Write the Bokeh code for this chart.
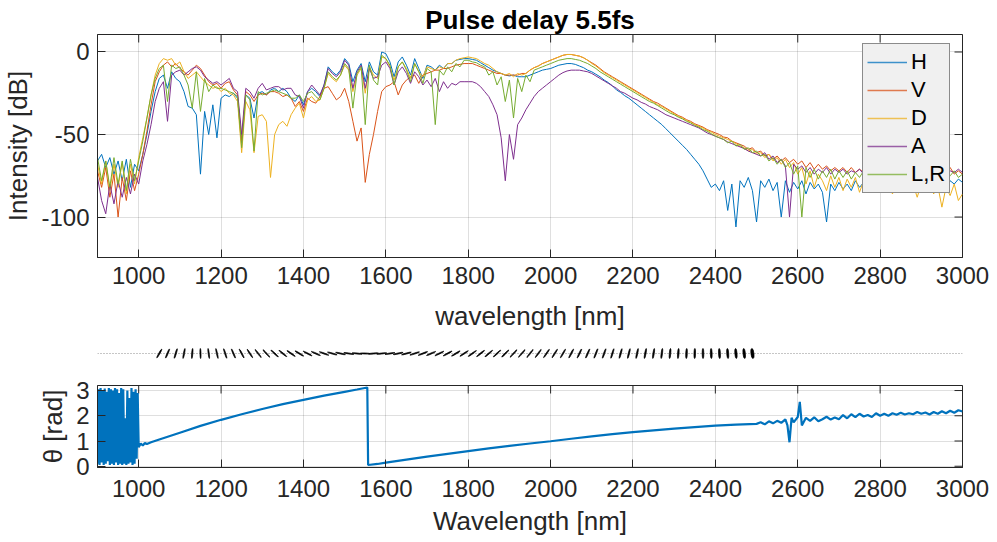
import math
from bokeh.plotting import figure
from bokeh.layouts import column
from bokeh.models import Range1d, FixedTicker, Legend, LegendItem, ColumnDataSource
from bokeh.embed import file_html
from bokeh.resources import INLINE

# ---------------- data ----------------
wl = list(range(900, 3001, 10))  # common wavelength grid [nm]

H = [
    -66, -62, -70, -64, -74, -66, -78, -65, -82, -68,
    -72, -62, -50, -36, -24, -16, -14, -22, -12, -16,
    -18, -24, -33, -34, -38, -74, -36, -50, -32, -52,
    -28, -26, -27, -25, -28, -55, -26, -28, -40, -25,
    -24, -26, -23, -22, -24, -22, -24, -28, -30, -26,
    -32, -24, -22, -24, -27, -20, -9, -12, -14, -11,
    -4, -7, -18, -11, -7, -18, -6, -12, -14, 0,
    -1, -6, -15, -6, -3, -8, -14, -4, -10, -16,
    -8, -9, -11, -8, -10, -7, -7, -5, -4.5, -4,
    -4, -4.5, -5, -6.5, -8, -9.5, -11, -12, -13, -14,
    -14.5, -14, -15, -15, -15, -14, -13, -12, -11, -10.5,
    -10, -9, -8, -7.5, -7, -7, -7.5, -8.5, -9.5, -11,
    -12, -13.5, -15, -17, -18.5, -20.5, -23, -24.5, -26.5, -28,
    -30, -32, -34, -36, -38, -40, -42, -44, -46.5, -49,
    -51.5, -54, -56.5, -59, -62, -65, -68, -72, -77, -82,
    -80, -84, -78, -96, -80, -106, -78, -82, -76, -84,
    -103, -78, -82, -77, -84, -79, -100, -78, -85, -79,
    -83, -78, -86, -79, -83, -80, -85, -103, -80, -84,
    -79, -83, -80, -84, -78, -82, -79, -83, -78, -82,
    -80, -77, -82, -78, -84, -79, -81, -77, -83, -79,
    -80, -78, -83, -77, -81, -79, -84, -78, -80, -77,
    -79,
]
V = [
    -72, -82, -70, -88, -74, -100, -76, -90, -72, -84,
    -74, -62, -48, -32, -18, -12, -8, -6, -9, -7,
    -10, -12, -14, -11, -8, -10, -14, -18, -20, -19,
    -22, -19, -18, -23, -26, -54, -24, -26, -30, -26,
    -25, -26, -24, -24, -25, -27, -26, -28, -33, -30,
    -36, -28, -30, -31, -27, -22, -21, -25, -29, -27,
    -22, -30, -42, -54, -46, -79, -62, -50, -36, -24,
    -21, -20, -18, -26, -20, -17, -15, -14, -19, -14,
    -13, -12, -11, -11, -10, -10, -9, -8, -7.5, -7,
    -7, -7, -8, -9, -10, -11, -12, -13, -13, -14,
    -14, -14, -14, -13, -13, -11, -9.5, -8.5, -7, -6,
    -5, -4, -3, -2, -1.5, -1.5, -2, -2.5, -3.5, -5,
    -6.5, -8, -10, -12, -13.5, -15, -16.5, -18, -19.5, -21,
    -22.5, -24, -25.5, -27, -28.5, -30, -31, -32.5, -34, -35.5,
    -37, -38.5, -39.5, -41, -42, -43.5, -44.5, -45.5, -47, -48,
    -49, -50, -51.5, -52, -54, -55, -56, -57, -59, -58,
    -61, -60, -63, -62, -65, -63, -66, -64, -67, -65,
    -68, -66, -70, -67, -71, -68, -71, -69, -72, -70,
    -72, -70, -73, -70, -73, -71, -73, -71, -74, -72,
    -73, -71, -74, -72, -73, -71, -74, -72, -73, -71,
    -74, -72, -73, -71, -74, -72, -73, -70, -74, -72,
    -74,
]
D = [
    -68, -80, -66, -84, -68, -82, -67, -86, -68, -80,
    -64, -52, -40, -26, -14, -7, -4, -5, -4, -8,
    -6, -12, -16, -14, -12, -15, -18, -20, -22, -21,
    -24, -22, -25, -26, -30, -61, -30, -35, -61, -39,
    -38, -42, -76, -50, -44, -42, -45, -38, -34, -31,
    -40, -29, -27, -30, -29, -22, -13, -16, -18, -14,
    -8, -11, -24, -14, -10, -25, -9, -14, -16, -3,
    -4, -9, -17, -9, -6, -10, -16, -7, -12, -15,
    -9, -10, -11, -9, -10, -7, -7, -5, -4, -3.5,
    -3, -3.5, -4, -5.5, -7, -8, -10, -12, -13, -14,
    -13, -15, -13, -14, -13, -11, -9.5, -8.5, -7, -6,
    -5, -4, -3, -2, -1.5, -1.5, -2, -2.5, -3.5, -5,
    -7, -8.5, -10.5, -12.5, -14, -15.5, -17, -18.5, -20, -21.5,
    -23, -24.5, -26, -27.5, -29, -30.5, -32, -33, -34.5, -36,
    -37.5, -39, -40, -41.5, -42.5, -44, -45, -46, -47.5, -48.5,
    -50, -51, -52, -53, -54, -55.5, -57, -58, -60, -59,
    -62, -61, -64, -62, -66, -64, -68, -65, -70, -67,
    -74, -70, -80, -72, -82, -74, -78, -84, -75, -82,
    -76, -84, -77, -82, -76, -85, -78, -81, -77, -84,
    -78, -83, -80, -86, -79, -83, -78, -84, -80, -88,
    -80, -85, -79, -86, -81, -94, -82, -87, -80, -90,
    -86,
]
A = [
    -76, -90, -98, -80, -92, -78, -88, -76, -86, -74,
    -80, -66, -56, -44, -30, -22, -18, -42, -14, -12,
    -11, -14, -12, -10, -9, -11, -15, -17, -19, -18,
    -20, -18, -16, -22, -24, -50, -22, -24, -28, -22,
    -19, -23, -22, -21, -21, -23, -22, -22, -26, -27,
    -34, -24, -20, -23, -26, -20, -10, -13, -15, -12,
    -5, -8, -22, -12, -8, -22, -10, -16, -15, -8,
    -6, -10, -20, -12, -9, -13, -19, -12, -15, -20,
    -17, -21, -16, -24, -18, -22, -19, -20, -18, -18,
    -18, -18, -19, -21, -24, -27, -32, -38, -52, -78,
    -50, -65, -44, -40, -35, -31, -27, -24, -22, -20,
    -18, -16, -14, -12.5, -11.5, -11, -11, -11, -11.5, -12,
    -13, -14.5, -16, -17.5, -19, -20.5, -22, -24, -25, -26.5,
    -28, -29, -30.5, -31.5, -33, -34, -35, -36.5, -38, -39,
    -40, -41, -42, -43, -44, -45, -46, -47.5, -49, -50,
    -51, -52, -53, -54.5, -55.5, -56.5, -57.5, -58.5, -60, -61,
    -62, -63, -61, -65, -63, -67, -65, -69, -100, -68,
    -71, -69, -73, -70, -74, -71, -73, -70, -74, -71,
    -73, -71, -74, -72, -73, -71, -74, -72, -73, -71,
    -74, -72, -73, -71, -74, -72, -73, -71, -74, -72,
    -73, -71, -74, -72, -73, -71, -74, -72, -73, -71,
    -73,
]
LR = [
    -64, -78, -66, -82, -64, -80, -66, -84, -65, -78,
    -66, -54, -40, -26, -16, -10, -8, -30, -8, -10,
    -9, -14, -20, -34, -12, -36, -16, -24, -20, -22,
    -22, -23, -24, -25, -27, -58, -26, -29, -60, -24,
    -26, -25, -24, -23, -24, -25, -26, -28, -28, -26,
    -30, -25, -24, -27, -29, -22, -12, -15, -17, -14,
    -7, -10, -34, -13, -9, -44, -8, -17, -20, -2,
    -4, -8, -20, -9, -6, -11, -18, -7, -12, -19,
    -10, -12, -44, -11, -14, -9, -12, -7, -9, -5,
    -5, -6, -6.5, -8, -9, -14, -12, -20, -15, -30,
    -17, -40, -16, -24, -14, -18, -11, -10, -9, -8,
    -7, -6, -5, -4.5, -4, -4, -4.5, -5, -6, -7,
    -8.5, -10, -12, -13.5, -15, -16.5, -18, -19.5, -21, -22.5,
    -24, -25.5, -27, -28.5, -30, -31, -32.5, -34, -35.5, -37,
    -38, -39.5, -40.5, -42, -43, -44.5, -45.5, -47, -48, -49.5,
    -51, -52, -53, -55, -54, -57, -56, -59, -58, -61,
    -60, -63, -62, -66, -64, -68, -65, -70, -67, -74,
    -69, -100, -70, -76, -71, -77, -72, -76, -71, -77,
    -72, -76, -72, -77, -73, -76, -72, -77, -73, -76,
    -73, -75, -72, -76, -73, -75, -72, -76, -73, -75,
    -72, -76, -73, -75, -72, -76, -73, -75, -72, -76,
    -74,
]
series_names = ["H", "V", "D", "A", "L,R"]
series_vals = [H, V, D, A, LR]
series_colors = ["#0072BD", "#D95319", "#EDB120", "#7E2F8E", "#77AC30"]

# polarisation angle theta [rad]
theta_wl = [
    900, 902.5, 905, 907.5, 910, 912.5, 915, 917.5, 920, 922.5,
    925, 927.5, 930, 932.5, 935, 937.5, 940, 942.5, 945, 947.5,
    950, 952.5, 955, 957.5, 960, 962.5, 965, 967.5, 970, 972.5,
    975, 977.5, 980, 982.5, 985, 987.5, 990, 992.5, 995, 997.5,
    1000, 1005, 1010, 1015, 1020, 1030, 1050, 1100, 1150, 1200,
    1250, 1300, 1350, 1400, 1450, 1500, 1530, 1555, 1557, 1580,
    1600, 1650, 1700, 1750, 1800, 1850, 1900, 1950, 2000, 2050,
    2100, 2150, 2200, 2250, 2300, 2350, 2400, 2450, 2500, 2510,
    2520, 2530, 2540, 2550, 2560, 2570, 2575, 2580, 2585, 2590,
    2600, 2605, 2610, 2620, 2630, 2640, 2650, 2660, 2670, 2680,
    2690, 2700, 2710, 2720, 2730, 2740, 2750, 2760, 2770, 2780,
    2790, 2800, 2810, 2820, 2830, 2840, 2850, 2860, 2870, 2880,
    2890, 2900, 2910, 2920, 2930, 2940, 2950, 2960, 2970, 2980,
    2990, 3000,
]
theta_val = [
    0.10, 3.05, 0.05, 3.10, 0.15, 3.00, 0.05, 3.08, 0.10, 2.95,
    0.20, 3.10, 0.05, 3.05, 0.10, 3.00, 0.05, 3.10, 0.15, 3.05,
    0.05, 2.90, 0.10, 3.10, 0.05, 3.05, 0.10, 1.90, 0.05, 3.00,
    0.10, 2.70, 0.15, 3.10, 0.05, 2.95, 0.10, 3.05, 0.30, 2.90,
    0.75, 0.90, 0.82, 0.92, 0.88, 0.95, 1.06, 1.33, 1.60, 1.84,
    2.06, 2.27, 2.46, 2.63, 2.80, 2.95, 3.04, 3.12, 0.05, 0.09,
    0.14, 0.26, 0.38, 0.49, 0.60, 0.71, 0.81, 0.90, 0.99, 1.09,
    1.18, 1.27, 1.35, 1.42, 1.49, 1.55, 1.61, 1.65, 1.68, 1.74,
    1.66, 1.78, 1.70, 1.80, 1.72, 1.86, 1.62, 0.95, 1.92, 1.74,
    1.95, 2.55, 1.62, 1.92, 1.80, 1.94, 1.78, 1.86, 1.96, 1.85,
    1.93, 1.86, 2.03, 1.90, 2.06, 1.95, 2.08, 1.97, 2.03, 1.95,
    2.10, 2.00, 2.08, 2.00, 2.10, 2.04, 2.12, 2.05, 2.10, 2.06,
    2.15, 2.08, 2.13, 2.05, 2.15, 2.08, 2.18, 2.10, 2.20, 2.12,
    2.22, 2.17,
]

# polarisation ellipses (orientation angle and ellipticity)
ell_wl = [
    1050, 1070, 1090, 1110, 1130, 1150, 1170, 1190, 1210, 1230,
    1250, 1270, 1290, 1310, 1330, 1350, 1370, 1390, 1410, 1430,
    1450, 1470, 1490, 1510, 1530, 1550, 1570, 1590, 1610, 1630,
    1650, 1670, 1690, 1710, 1730, 1750, 1770, 1790, 1810, 1830,
    1850, 1870, 1890, 1910, 1930, 1950, 1970, 1990, 2010, 2030,
    2050, 2070, 2090, 2110, 2130, 2150, 2170, 2190, 2210, 2230,
    2250, 2270, 2290, 2310, 2330, 2350, 2370, 2390, 2410, 2430,
    2450, 2470, 2490,
]
ell_angle = [
    1.06, 1.17, 1.28, 1.38, 1.49, 1.60, 1.70, 1.79, 1.88, 1.97,
    2.06, 2.15, 2.23, 2.31, 2.39, 2.46, 2.53, 2.60, 2.67, 2.73,
    2.80, 2.86, 2.92, 2.98, 3.04, 3.10, 0.08, 0.12, 0.16, 0.21,
    0.26, 0.31, 0.36, 0.40, 0.45, 0.49, 0.54, 0.58, 0.62, 0.67,
    0.71, 0.75, 0.79, 0.83, 0.86, 0.90, 0.94, 0.97, 1.01, 1.05,
    1.09, 1.13, 1.16, 1.20, 1.23, 1.27, 1.30, 1.33, 1.36, 1.39,
    1.42, 1.45, 1.48, 1.50, 1.53, 1.55, 1.58, 1.60, 1.62, 1.64,
    1.65, 1.67, 1.68,
]
ell_ratio = [
    0.12, 0.12, 0.12, 0.12, 0.12, 0.11, 0.11, 0.11, 0.11, 0.11,
    0.11, 0.11, 0.11, 0.11, 0.11, 0.11, 0.11, 0.11, 0.11, 0.11,
    0.11, 0.11, 0.11, 0.11, 0.11, 0.11, 0.11, 0.11, 0.11, 0.11,
    0.11, 0.11, 0.11, 0.11, 0.11, 0.11, 0.11, 0.11, 0.11, 0.11,
    0.11, 0.11, 0.11, 0.11, 0.11, 0.11, 0.11, 0.11, 0.11, 0.11,
    0.12, 0.12, 0.12, 0.12, 0.12, 0.12, 0.13, 0.13, 0.13, 0.14,
    0.14, 0.14, 0.15, 0.15, 0.16, 0.16, 0.17, 0.18, 0.19, 0.20,
    0.22, 0.24, 0.30,
]

x_ticks = [1000, 1200, 1400, 1600, 1800, 2000, 2200, 2400, 2600, 2800, 3000]
db_ticks = [-100, -50, 0]
db_labels = {-100: "-100", -50: "-50", 0: "0"}
theta_ticks = [0, 1, 2, 3]

# ---------------- styling ----------------
FONT = "Liberation Sans"
TXT = "#262626"
W = 997
LEFT, RIGHT = 97, 35
X0, X1 = 900, 3000


def style_axes(p, xt, yt, ylab_over=None):
    p.xaxis.ticker = FixedTicker(ticks=xt)
    p.yaxis.ticker = FixedTicker(ticks=yt)
    if ylab_over:
        p.yaxis.major_label_overrides = ylab_over
    p.xgrid.ticker = FixedTicker(ticks=xt)
    p.ygrid.ticker = FixedTicker(ticks=yt)
    for g in (p.xgrid, p.ygrid):
        g.grid_line_color = TXT
        g.grid_line_alpha = 0.15
        g.grid_line_width = 1
    for ax in (p.xaxis, p.yaxis):
        ax.major_tick_in = 8
        ax.major_tick_out = 0
        ax.minor_tick_in = 0
        ax.minor_tick_out = 0
        ax.axis_line_color = TXT
        ax.major_tick_line_color = TXT
        ax.major_label_text_font = FONT
        ax.major_label_text_font_size = "24px"
        ax.major_label_text_color = TXT
        ax.axis_label_text_font = FONT
        ax.axis_label_text_font_size = "26px"
        ax.axis_label_text_color = TXT
        ax.axis_label_text_font_style = "normal"
    p.yaxis.major_label_standoff = 8
    # inward ticks on the top and right edges of the box
    ytop = p.y_range.end
    p.scatter(x=xt, y=[ytop] * len(xt), marker="dash", size=16, angle=math.pi / 2,
              line_color=TXT, line_width=1)
    p.scatter(x=[X1] * len(yt), y=yt, marker="dash", size=16, angle=0,
              line_color=TXT, line_width=1)
    p.outline_line_color = TXT
    p.background_fill_color = "white"
    p.border_fill_color = "white"


# ---------------- top: spectra ----------------
p1 = figure(width=W, height=336, x_range=Range1d(X0, X1), y_range=Range1d(-124.5, 10.6),
            output_backend="svg", toolbar_location=None,
            min_border_left=LEFT, min_border_right=RIGHT, min_border_top=34, min_border_bottom=79)
style_axes(p1, x_ticks, db_ticks, db_labels)
p1.xaxis.axis_label = "wavelength [nm]"
p1.yaxis.axis_label = "Intensity [dB]"
p1.xaxis.major_label_standoff = 9
p1.xaxis.axis_label_standoff = 14
p1.title.text = "Pulse delay 5.5fs"
p1.title.align = "center"
p1.title.text_font = FONT
p1.title.text_font_size = "26px"
p1.title.text_font_style = "bold"
p1.title.text_color = "black"
p1.title.standoff = 0
p1.title.offset = 0

items = []
for name, vals, col in zip(series_names, series_vals, series_colors):
    src = ColumnDataSource(dict(x=wl, y=vals))
    p1.line("x", "y", source=src, line_color=col, line_width=1)
    # legend sample (a single undefined point, so nothing is drawn in the plot)
    key = p1.line(x=[X0], y=[float("nan")], line_color=col, line_width=1.6, line_alpha=0.75)
    items.append(LegendItem(label=name, renderers=[key]))

legend = Legend(items=items, location=(765, 64), orientation="vertical",
                background_fill_color="#f0f0f0", background_fill_alpha=1,
                border_line_color=TXT, border_line_width=1,
                label_text_font=FONT, label_text_font_size="22px", label_text_color="black",
                glyph_width=40, glyph_height=28, label_height=28, label_standoff=4,
                spacing=0, padding=4, margin=0)
p1.add_layout(legend, "center")

# ---------------- middle: polarisation ellipses ----------------
p2 = figure(width=W, height=34, x_range=Range1d(X0, X1), y_range=Range1d(-1, 1),
            output_backend="svg", toolbar_location=None, x_axis_type=None, y_axis_type=None,
            min_border_left=LEFT, min_border_right=RIGHT, min_border_top=0, min_border_bottom=0)
p2.outline_line_color = None
p2.xgrid.visible = False
p2.ygrid.visible = False
p2.line(x=[X0, X1], y=[0, 0], line_color="#8c8c8c", line_width=1, line_dash="1 2")
minor_px = [10 * r for r in ell_ratio]
p2.ellipse(x=ell_wl, y=[0] * len(ell_wl), width=[10] * len(ell_wl), height=minor_px,
           angle=ell_angle, width_units="screen", height_units="screen",
           fill_color="black", line_color="black", line_width=0.7)

# ---------------- bottom: theta ----------------
p3 = figure(width=W, height=171, x_range=Range1d(X0, X1), y_range=Range1d(-0.05, 3.2),
            output_backend="svg", toolbar_location=None,
            min_border_left=LEFT, min_border_right=RIGHT, min_border_top=15, min_border_bottom=74)
style_axes(p3, x_ticks, theta_ticks)
p3.xaxis.axis_label = "Wavelength [nm]"
p3.yaxis.axis_label = "θ [rad]"
p3.xaxis.major_label_standoff = 12
p3.xaxis.axis_label_standoff = 6
p3.line(theta_wl, theta_val, line_color="#0072BD", line_width=2.2)

layout = column(p1, p2, p3, spacing=0)
open("out.html", "w").write(file_html(layout, INLINE))
